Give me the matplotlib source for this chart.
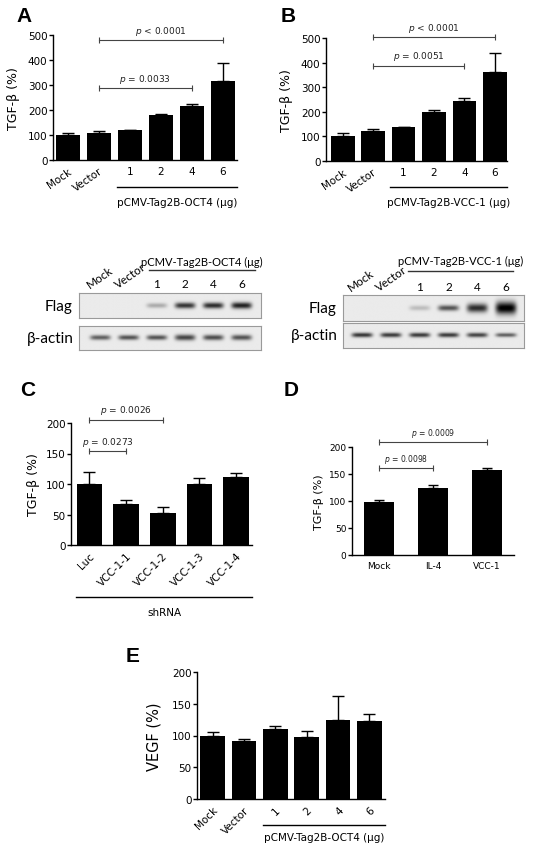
import matplotlib
matplotlib.use("Agg")
import matplotlib.pyplot as plt
import matplotlib.transforms as mtransforms
import numpy as np

# ---- data ----
dose_labels = ["Mock", "Vector", "1", "2", "4", "6"]

tgf_oct4 = [100, 108, 120, 182, 218, 318]
tgf_oct4_err = [8, 10, 2, 4, 5, 70]

tgf_vcc1 = [100, 120, 137, 200, 243, 360]
tgf_vcc1_err = [12, 12, 2, 8, 12, 80]

sh_labels = ["Luc", "VCC-1-1", "VCC-1-2", "VCC-1-3", "VCC-1-4"]
tgf_sh = [100, 68, 53, 100, 111]
tgf_sh_err = [20, 5, 10, 10, 7]

d_labels = ["Mock", "IL-4", "VCC-1"]
tgf_d = [99, 125, 158]
tgf_d_err = [3, 4, 4]

vegf_oct4 = [100, 91, 110, 98, 125, 123]
vegf_oct4_err = [5, 4, 5, 9, 37, 11]

# significance brackets: (from bar, to bar, level, text)
sig_a = [(1, 5, 480, "$p$ < 0.0001"), (1, 4, 288, "$p$ = 0.0033")]
sig_b = [(1, 5, 503, "$p$ < 0.0001"), (1, 4, 388, "$p$ = 0.0051")]
sig_c = [(0, 2, 205, "$p$ = 0.0026"), (0, 1, 154, "$p$ = 0.0273")]
sig_d = [(0, 2, 209, "$p$ = 0.0009"), (0, 1, 161, "$p$ = 0.0098")]

# western blot band strength per lane (0 = none, 1 = saturated)
flag_oct4 = [0.0, 0.0, 0.25, 0.72, 0.75, 0.8]
actin_oct4 = [0.55, 0.6, 0.6, 0.65, 0.62, 0.6]
flag_vcc1 = [0.0, 0.0, 0.18, 0.6, 0.75, 0.95]
actin_vcc1 = [0.72, 0.7, 0.7, 0.7, 0.66, 0.55]

W, H = 534, 854
fig = plt.figure(figsize=(W / 100, H / 100), dpi=100)


def add_ax(l, t, r, b):
    return fig.add_axes([l / W, 1 - b / H, (r - l) / W, (b - t) / H])


def fig_text(x, y, s, **kw):
    fig.text(x / W, 1 - y / H, s, **kw)


def bar_panel(ax, labels, vals, errs, ymax, ystep, xlim, width, ylabel,
              ylab_x, tick_fs=7.5, ylab_fs=9, cap=4):
    x = np.arange(len(vals))
    ax.bar(x, vals, width=width, color="black", zorder=2)
    ax.errorbar(x, vals, yerr=[np.zeros(len(errs)), errs], fmt="none",
                ecolor="black", elinewidth=1, capsize=cap, capthick=1,
                zorder=1, clip_on=False)
    ax.set_xlim(*xlim)
    ax.set_ylim(0, ymax)
    ax.set_yticks(np.arange(0, ymax + 1, ystep))
    ax.set_xticks(x)
    ax.set_xticklabels(labels)
    for s in ["top", "right"]:
        ax.spines[s].set_visible(False)
    for s in ["left", "bottom"]:
        ax.spines[s].set_linewidth(1.0)
    ax.tick_params(axis="y", direction="out", length=3, width=1,
                   labelsize=tick_fs, pad=1)
    ax.tick_params(axis="x", length=0, labelsize=tick_fs, pad=4)
    ax.set_ylabel(ylabel, fontsize=ylab_fs)
    ax.yaxis.set_label_coords(ylab_x, 0.5)
    return x


def brackets(ax, sig, fs):
    for i, j, y, txt in sig:
        ax.plot([i, j], [y, y], color="#444444", lw=0.8, marker="|", ms=4,
                mew=0.8, clip_on=False)
        ax.annotate(txt, xy=((i + j) / 2, y), xytext=(0, 2.5),
                    textcoords="offset points", ha="center", va="bottom",
                    fontsize=fs, color="#222222", annotation_clip=False)


def rotate_labels(ax, idx, angle):
    labels = ax.get_xticklabels()
    for k in idx:
        labels[k].set_rotation(angle)
        labels[k].set_ha("right")
        labels[k].set_va("top")
        labels[k].set_rotation_mode("anchor")


def group_line(ax, x0, x1, yline, ylab, text, fs=7.5):
    tr = mtransforms.blended_transform_factory(ax.transData, ax.transAxes)
    ax.plot([x0, x1], [yline, yline], color="black", lw=1, transform=tr,
            clip_on=False)
    ax.text((x0 + x1) / 2, ylab, text, transform=tr, ha="center",
            va="center", fontsize=fs)


def blot(ax, bands, xlim, thick, halfw=0.36):
    xs = np.linspace(xlim[0], xlim[1], 500)
    ys = np.linspace(0, 1, 80)
    X, Y = np.meshgrid(xs, ys)
    img = np.full(X.shape, 0.92)
    for i, v in enumerate(bands):
        img -= v * np.exp(-np.abs((X - i) / halfw) ** 5) * \
            np.exp(-((Y - 0.5) / thick[i]) ** 2)
    ax.imshow(np.clip(img, 0, 1), cmap="gray", vmin=0, vmax=1,
              extent=[xlim[0], xlim[1], 0, 1], aspect="auto",
              interpolation="bilinear")
    ax.set_xlim(*xlim)
    ax.set_ylim(0, 1)
    ax.set_xticks([])
    ax.set_yticks([])
    for s in ax.spines.values():
        s.set_color("#9a9a9a")
        s.set_linewidth(0.8)


def blot_labels(ax, lanes, y_num, y_rot, dx_rot, header, y_head, y_line,
                lx0, lx1):
    tr = mtransforms.blended_transform_factory(ax.transData, ax.transAxes)
    for i, lab in enumerate(lanes):
        if i < 2:
            ax.text(i + dx_rot, y_rot, lab, transform=tr, rotation=35,
                    rotation_mode="anchor", ha="left", va="baseline",
                    fontsize=8.5, family="Lato")
        else:
            ax.text(i, y_num, lab, transform=tr, ha="center", va="center",
                    fontsize=8.5, family="Lato")
    ax.plot([lx0, lx1], [y_line, y_line], color="#333333", lw=1,
            transform=tr, clip_on=False)
    ax.text((lx0 + lx1) / 2, y_head, header, transform=tr,
            ha="center", va="center", fontsize=8, family="Lato")


# ---- panel A ----
axA = add_ax(53, 36, 237, 161)
bar_panel(axA, dose_labels, tgf_oct4, tgf_oct4_err, 500, 100,
          (-0.48, 5.46), 0.78, "TGF-β (%)", -0.18)
rotate_labels(axA, [0, 1], 35)
brackets(axA, sig_a, 6.5)
group_line(axA, 1.6, 5.45, -0.216, -0.336, "pCMV-Tag2B-OCT4 (μg)")

# ---- panel B ----
axB = add_ax(326, 39, 507, 162)
bar_panel(axB, dose_labels, tgf_vcc1, tgf_vcc1_err, 500, 100,
          (-0.55, 5.4), 0.78, "TGF-β (%)", -0.185)
rotate_labels(axB, [0, 1], 35)
brackets(axB, sig_b, 6.5)
group_line(axB, 1.55, 5.4, -0.211, -0.333, "pCMV-Tag2B-VCC-1 (μg)")

# ---- blots ----
lim_a = (-0.75, 5.68)
bfa = add_ax(79, 294, 261, 319)
blot(bfa, flag_oct4, lim_a, thick=[0.11, 0.11, 0.1, 0.12, 0.12, 0.13])
baa = add_ax(79, 327, 261, 351)
blot(baa, actin_oct4, lim_a, thick=[0.1, 0.1, 0.1, 0.12, 0.11, 0.11])
bfa.text(-0.035, 0.5, "Flag", transform=bfa.transAxes, ha="right",
         va="center", fontsize=11, family="Lato")
baa.text(-0.03, 0.5, "β-actin", transform=baa.transAxes, ha="right",
         va="center", fontsize=11, family="Lato")
blot_labels(bfa, dose_labels, 1.4, 1.2, -0.36, "pCMV-Tag2B-OCT4 (μg)",
            2.28, 1.92, 1.72, 5.47)

lim_b = (-0.66, 5.62)
bfb = add_ax(343, 296, 524, 322)
blot(bfb, flag_vcc1, lim_b, thick=[0.1, 0.1, 0.1, 0.11, 0.17, 0.24])
bab = add_ax(343, 324, 524, 349)
blot(bab, actin_vcc1, lim_b, thick=[0.09, 0.09, 0.09, 0.09, 0.09, 0.08])
bfb.text(-0.035, 0.5, "Flag", transform=bfb.transAxes, ha="right",
         va="center", fontsize=11, family="Lato")
bab.text(-0.03, 0.5, "β-actin", transform=bab.transAxes, ha="right",
         va="center", fontsize=11, family="Lato")
blot_labels(bfb, dose_labels, 1.31, 1.15, -0.4, "pCMV-Tag2B-VCC-1 (μg)",
            2.31, 1.92, 1.6, 5.24)

# ---- panel C ----
axC = add_ax(71, 424, 252, 546)
bar_panel(axC, sh_labels, tgf_sh, tgf_sh_err, 200, 50, (-0.5, 4.43), 0.7,
          "TGF-β (%)", -0.17)
rotate_labels(axC, range(5), 45)
brackets(axC, sig_c, 6.5)
group_line(axC, -0.36, 4.43, -0.426, -0.549, "shRNA")

# ---- panel D ----
axD = add_ax(352, 448, 514, 556)
bar_panel(axD, d_labels, tgf_d, tgf_d_err, 200, 50, (-0.5, 2.5), 0.56,
          "TGF-β (%)", -0.175, tick_fs=6.5, ylab_fs=8, cap=3.5)
brackets(axD, sig_d, 5.5)

# ---- panel E ----
axE = add_ax(197, 673, 385, 800)
bar_panel(axE, dose_labels, vegf_oct4, vegf_oct4_err, 200, 50,
          (-0.5, 5.5), 0.78, "VEGF (%)", -0.19, ylab_fs=10.5)
rotate_labels(axE, range(6), 45)
group_line(axE, 1.62, 5.5, -0.205, -0.30, "pCMV-Tag2B-OCT4 (μg)")

# ---- panel letters ----
for lab, px, py in [("A", 24, 16), ("B", 288, 16), ("C", 28, 391),
                    ("D", 291, 390), ("E", 133, 657)]:
    fig_text(px, py, lab, ha="center", va="center", fontsize=15,
             fontweight="bold", family="Liberation Sans")

fig.savefig("out.png", dpi=100)
